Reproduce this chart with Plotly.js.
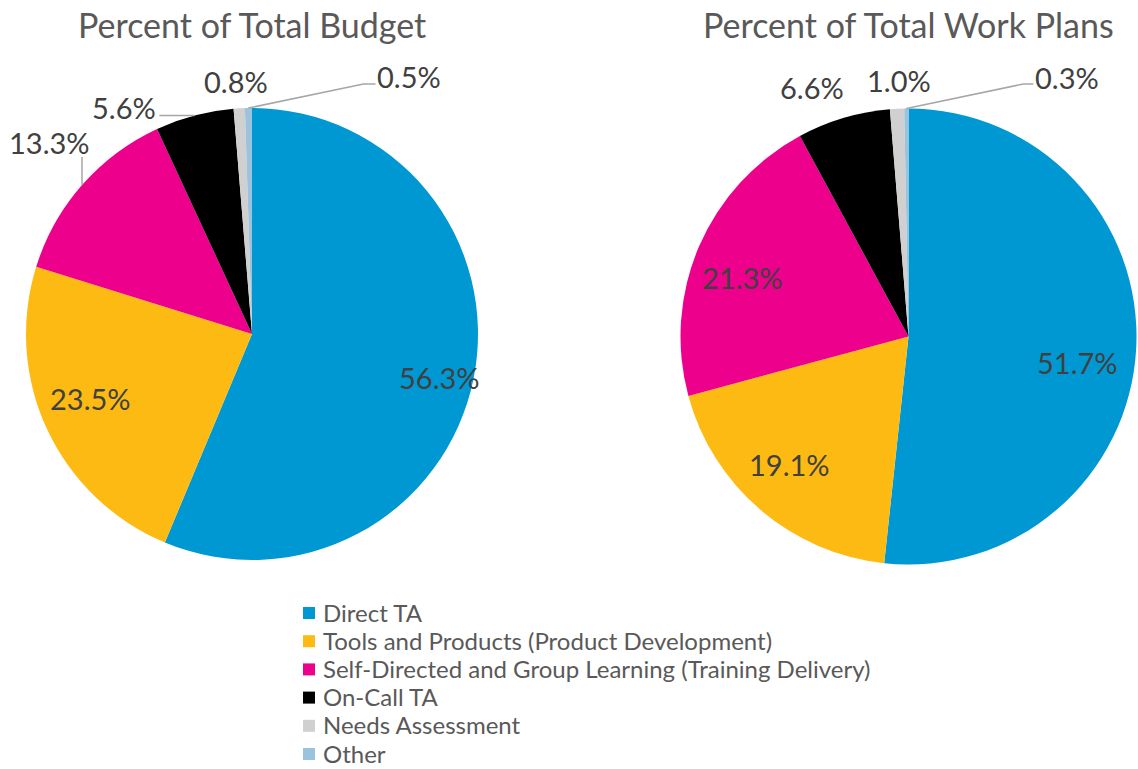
<!DOCTYPE html>
<html>
<head>
<meta charset="utf-8">
<script src="https://cdn.plot.ly/plotly-3.0.1.min.js"></script>
<style>html,body{margin:0;padding:0;background:#fff;overflow:hidden;}#chart{width:1138px;height:769px;}</style>
</head>
<body>
<div id="chart"></div>
<script>
// ---- data ----
const categories = [
  "Direct TA",
  "Tools and Products (Product Development)",
  "Self-Directed and Group Learning (Training Delivery)",
  "On-Call TA",
  "Needs Assessment",
  "Other"
];
const budgetPct = [56.3, 23.5, 13.3, 5.6, 0.8, 0.5];
const workPlanPct = [51.7, 19.1, 21.3, 6.6, 1.0, 0.3];
const chartTitles = ["Percent of Total Budget", "Percent of Total Work Plans"];

// ---- style ----
const colors = ["#0098D3", "#FDBA12", "#EC008C", "#000000", "#D0D0D0", "#9CC3DE"];
const W = 1138, H = 769;
const FONT = "Lato, 'Open Sans', sans-serif";
const labelColor = "#404040";
const titleColor = "#595959";

// pie geometry in pixels (layout) and label placement tweaks
const pies = [
  { values: budgetPct, cx: 252, cy: 334, r: 226, titleX: 252,
    inside: { 0: [10, 8], 1: [2, -12] },
    outside: {
      2: { off: [-33, -43], leader: [[0, -28]] },
      3: { off: [-70, -8], leader: [[-35, 0]] },
      4: { off: [-3, -27], leader: [] },
      5: { off: [161, -32], leader: [[115, -24], [127, -24]] }
    } },
  { values: workPlanPct, cx: 908.5, cy: 336.5, r: 228, titleX: 908,
    inside: { 0: [-13, 16], 1: [-1, -11], 2: [2, 13] },
    outside: {
      3: { off: [-32, -30], leader: [] },
      4: { off: [2, -28], leader: [] },
      5: { off: [161, -31], leader: [[117, -24.5], [127, -24.5]] }
    } }
];
const insideFrac = 0.8;
const legendBox = { sqLeft: 303, sqSize: 12, textLeft: 321, top: 612, step: 28.2 };

const px2x = x => x / W;
const px2y = y => 1 - y / H;

const traces = [];
const annotations = [];
const shapes = [];

pies.forEach((p, pi) => {
  traces.push({
    type: "pie",
    labels: categories,
    values: p.values,
    sort: false,
    direction: "clockwise",
    rotation: 0,
    textinfo: "none",
    hoverinfo: "label+percent",
    marker: { colors: colors, line: { width: 0 } },
    domain: { x: [px2x(p.cx - p.r), px2x(p.cx + p.r)], y: [px2y(p.cy + p.r), px2y(p.cy - p.r)] },
    showlegend: false
  });

  annotations.push({
    xref: "paper", yref: "paper", x: px2x(p.titleX), y: px2y(24),
    xanchor: "center", yanchor: "middle", showarrow: false,
    text: chartTitles[pi], font: { family: FONT, size: 34, color: titleColor }
  });

  const total = p.values.reduce((a, b) => a + b, 0);
  let cum = 0;
  p.values.forEach((v, i) => {
    const mid = (cum + v / 2) / total * 2 * Math.PI;
    cum += v;
    const txt = v.toFixed(1) + "%";
    const sx = Math.sin(mid), sy = -Math.cos(mid);
    const o = p.outside[i];
    if (!o) {
      const nudge = p.inside[i] || [0, 0];
      const lx = p.cx + p.r * insideFrac * sx + nudge[0];
      const ly = p.cy + p.r * insideFrac * sy + nudge[1];
      annotations.push({
        xref: "paper", yref: "paper", x: px2x(lx), y: px2y(ly),
        xanchor: "center", yanchor: "middle", showarrow: false,
        text: txt, font: { family: FONT, size: 29, color: labelColor }
      });
    } else {
      const ex = p.cx + p.r * sx, ey = p.cy + p.r * sy;
      annotations.push({
        xref: "paper", yref: "paper", x: px2x(ex + o.off[0]), y: px2y(ey + o.off[1]),
        xanchor: "center", yanchor: "middle", showarrow: false,
        text: txt, font: { family: FONT, size: 29, color: labelColor }
      });
      if (o.leader.length) {
        let path = "M" + px2x(ex) + "," + px2y(ey);
        o.leader.forEach(pt => { path += " L" + px2x(ex + pt[0]) + "," + px2y(ey + pt[1]); });
        shapes.push({ type: "path", xref: "paper", yref: "paper", path: path,
          line: { color: "#A6A6A6", width: 1.5 } });
      }
    }
  });
});

// legend (drawn from categories and colors)
categories.forEach((c, i) => {
  const cy = legendBox.top + i * legendBox.step;
  shapes.push({
    type: "rect", xref: "paper", yref: "paper",
    x0: px2x(legendBox.sqLeft), x1: px2x(legendBox.sqLeft + legendBox.sqSize),
    y0: px2y(cy - legendBox.sqSize / 2 + 1), y1: px2y(cy + legendBox.sqSize / 2 + 1),
    fillcolor: colors[i], line: { width: 0 }
  });
  annotations.push({
    xref: "paper", yref: "paper", x: px2x(legendBox.textLeft), y: px2y(cy),
    xanchor: "left", yanchor: "middle", showarrow: false,
    text: c, font: { family: FONT, size: 24, color: titleColor }
  });
});

const layout = {
  width: W, height: H,
  margin: { l: 0, r: 0, t: 0, b: 0 },
  paper_bgcolor: "#ffffff",
  font: { family: FONT, color: titleColor },
  annotations: annotations,
  shapes: shapes,
  showlegend: false
};

Plotly.newPlot("chart", traces, layout, { displayModeBar: false, staticPlot: true });
</script>
</body>
</html>
